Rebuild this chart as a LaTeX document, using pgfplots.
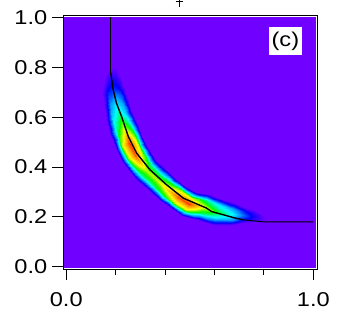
\documentclass[border=0pt]{standalone}
\usepackage{fontspec}
\setmainfont[FakeStretch=1.18]{Liberation Sans}
\usepackage{pgfplots}
\usepackage{pgfplotstable}
\pgfplotsset{compat=1.18}
\definecolor{bgp}{RGB}{112,0,255}
\pgfplotstableread{
x y z
.161 .795 0
.171 .797 0
.181 .799 0
.191 .801 0
.201 .803 0
.151 .751 0
.168 .755 .07
.185 .759 .10
.202 .763 .07
.219 .767 0
.143 .699 0
.166 .705 .145
.189 .711 .20
.212 .717 .145
.235 .723 0
.151 .645 0
.176 .652 .29
.201 .659 .40
.226 .666 .29
.251 .673 0
.159 .590 0
.186 .598 .375
.213 .606 .52
.240 .614 .375
.267 .622 0
.178 .530 0
.206 .540 .52
.234 .550 .72
.262 .560 .52
.290 .570 0
.200 .471 0
.227 .484 .68
.254 .497 .95
.281 .510 .68
.308 .523 0
.226 .419 0
.252 .434 .66
.278 .449 .92
.304 .464 .66
.330 .479 0
.281 .349 0
.302 .369 .49
.323 .389 .68
.344 .409 .49
.365 .429 0
.331 .307 0
.349 .328 .49
.367 .349 .68
.385 .370 .49
.403 .391 0
.380 .262 0
.396 .285 .56
.412 .308 .78
.428 .331 .56
.444 .354 0
.422 .234 0
.437 .257 .66
.452 .280 .92
.467 .303 .66
.482 .326 0
.469 .204 0
.483 .228 .68
.497 .252 .95
.511 .276 .68
.525 .300 0
.533 .188 0
.543 .214 .52
.553 .240 .72
.563 .266 .52
.573 .292 0
.598 .168 0
.606 .194 .40
.614 .220 .55
.622 .246 .40
.630 .272 0
.667 .166 0
.671 .188 .30
.675 .210 .42
.679 .232 .30
.683 .254 0
.711 .176 0
.713 .192 .18
.715 .208 .25
.717 .224 .18
.719 .240 0
.754 .180 0
.755 .192 .09
.756 .204 .12
.757 .216 .09
.758 .228 0
.804 .180 0
.804 .188 0
.804 .196 0
.804 .204 0
.804 .212 0
}\band
\begin{document}
\begin{tikzpicture}[x=1pt,y=1pt]
\path[use as bounding box] (-63.3,-56) rectangle (297.7,269);
\begin{axis}[
  at={(0pt,0pt)}, anchor=south west,
  scale only axis, width=253.7pt, height=253.3pt,
  xmin=-0.012, xmax=1.015, ymin=-0.0096, ymax=1.0085,
  axis on top,
  axis line style={line width=0.9pt},
  xtick pos=bottom, ytick pos=left, tick align=outside,
  xtick={0,1}, xticklabels={0.0,1.0},
  minor xtick={0.2,0.4,0.6,0.8},
  ytick={0,0.2,0.4,0.6,0.8,1.0},
  yticklabels={0.0,0.2,0.4,0.6,0.8,1.0},
  major tick length=11pt, minor tick length=6pt,
  tick style={black, line width=0.8pt},
  tick label style={font=\fontsize{20}{21}\selectfont},
  xticklabel style={yshift=-9pt},
  yticklabel style={xshift=-1.5pt},
  colormap={band}{rgb255=(112,0,255) rgb255=(0,0,255) rgb255=(0,140,255) rgb255=(0,255,255) rgb255=(0,255,0) rgb255=(255,255,0) rgb255=(255,150,0) rgb255=(255,0,0)},
  point meta min=0, point meta max=1,
  clip=true,
]
\addplot[fill=bgp, draw=none] coordinates {(-0.008,-0.006) (1.011,-0.006) (1.011,1.004) (-0.008,1.004)} -- cycle;
\addplot[surf, shader=interp, mesh/cols=5, point meta=explicit] table[x=x,y=y,meta=z] {\band};
\addplot[black, line width=0.8pt] coordinates {(.18,1.004) (.18,.779)};
\addplot[black, line width=1.4pt] coordinates {
(.18,.779) (.19,.711) (.203,.658) (.224,.603) (.251,.523) (.285,.456) (.339,.389)
(.406,.329) (.474,.275) (.568,.235) (.589,.221) (.663,.201) (.676,.197) (.717,.188)};
\addplot[black, line width=0.9pt] coordinates {(.717,.188) (.798,.18) (1.0,.18)};
\node[fill=white, inner sep=0pt, minimum width=33pt, minimum height=28.7pt,
      font=\fontsize{20}{21}\selectfont] at (axis cs:.887,.907) {(c)};
\end{axis}
\draw[black, line width=1pt] (115.7,269) -- (115.7,262.5);
\draw[black, line width=1.2pt] (112.2,267.5) -- (119.2,267.5);
\end{tikzpicture}
\end{document}
